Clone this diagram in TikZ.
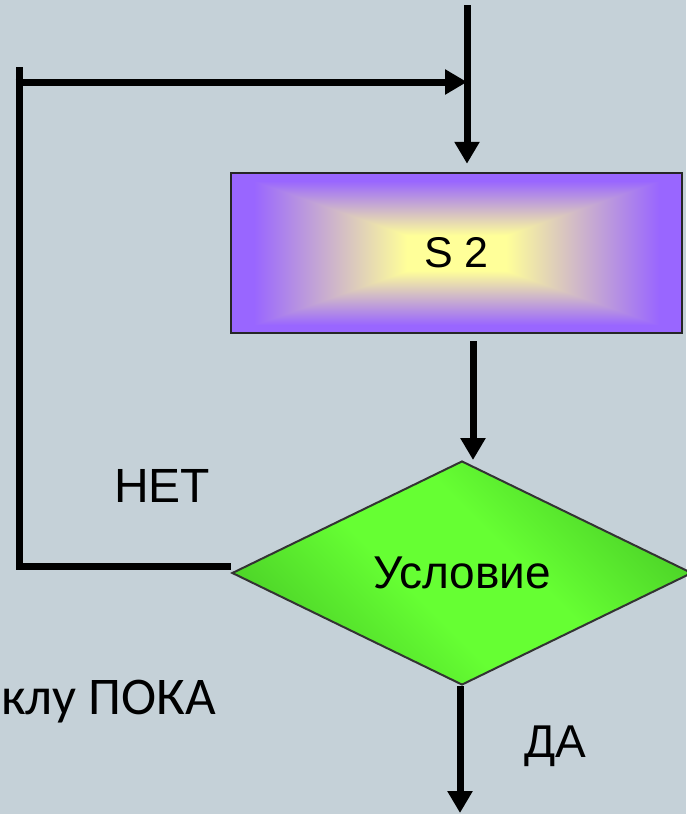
\documentclass[tikz,border=0pt]{standalone}
\usepackage{fontspec}
\setmainfont{Liberation Sans}
\newfontfamily\narrowfont{Carlito}
\usetikzlibrary{arrows.meta,shapes.geometric}

\definecolor{bgblue}{RGB}{197,209,216}
\definecolor{flowgreen}{RGB}{102,255,51}
\definecolor{flowgreendark}{RGB}{76,210,40}

% rectangular gradient: pale yellow core fading to violet at the border
\pgfdeclarefunctionalshading{boxglow}{\pgfpoint{-50bp}{-50bp}}{\pgfpoint{50bp}{50bp}}{}{
  abs exch abs 2 copy lt {exch} if pop
  25 div 0.22 sub 0.68 div
  dup 0 lt {pop 0} if dup 1 gt {pop 1} if
  dup 0.4 mul 1 exch sub
  exch dup 0.6 mul 1 exch sub
  exch 0.4 mul 0.6 add
}

% green with a brighter diagonal band
\pgfdeclarehorizontalshading{gemshade}{100bp}{
  color(0bp)=(flowgreendark); color(25bp)=(flowgreendark);
  color(43bp)=(flowgreen); color(57bp)=(flowgreen);
  color(75bp)=(flowgreendark); color(100bp)=(flowgreendark)}

\tikzset{
  flow/.style={draw=black, line width=7pt},
  arr/.style={flow, -{Triangle[length=22pt,width=24pt]}},
  procbox/.style={draw=black!85, line width=2.5pt, minimum width=451pt,
    minimum height=160pt, shade, shading=boxglow, inner sep=0pt,
    font=\fontsize{43}{50}\selectfont},
  decision/.style={diamond, draw=black!80, line width=2pt,
    minimum width=460pt, minimum height=224pt, shade, shading=gemshade,
    shading angle=45, inner sep=0pt, font=\fontsize{46}{54}\selectfont},
  tag/.style={inner sep=0pt, font=\fontsize{48}{56}\selectfont}
}

\begin{document}
\begin{tikzpicture}[x=1pt,y=-1pt]
\fill[bgblue] (0,0) rectangle (686,814);
\useasboundingbox (0,0) rectangle (686,814);

% blocks
\node[procbox] (s2) at (456.5,253) {S 2};
\node[decision] (cond) at (462,573) {Условие};

% labels
\node[tag, anchor=base] (no) at (162,502) {НЕТ};
\node[tag, anchor=base, font=\fontsize{46}{54}\selectfont] (yes) at (555,757) {ДА};
\node[inner sep=0pt, anchor=base west, font=\narrowfont\fontsize{53}{60}\selectfont]
  (title) at (1,714) {клу ПОКА};

% anchor points of the connectors
\coordinate (entry) at (467,5);
\coordinate (loopTop) at (19,67);
\coordinate (loopCorner) at (19,566);
\coordinate (loopJoin) at (15.5,82);
\coordinate (link) at (473,0);
\coordinate (exit) at (460,813);

% connectors
\draw[arr, shorten >=8pt] (entry) -- (entry |- s2.north);
\draw[arr, shorten <=7pt] (s2.south -| link) -- (cond.north -| link);
\draw[arr] (cond.south -| exit) -- (exit);
\draw[flow] (cond.west |- loopCorner) -- (loopCorner) -- (loopTop);
\draw[arr] (loopJoin) -- (loopJoin -| entry);
\end{tikzpicture}
\end{document}
